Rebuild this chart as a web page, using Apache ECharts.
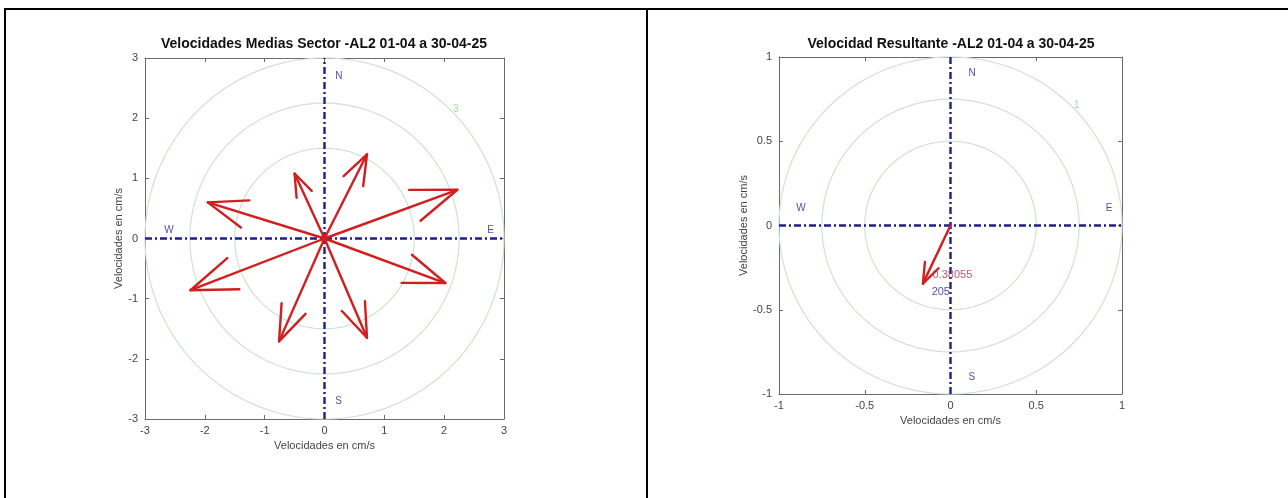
<!DOCTYPE html>
<html>
<head>
<meta charset="utf-8">
<script src="https://cdn.jsdelivr.net/npm/echarts@6/dist/echarts.min.js"></script>
<style>
html,body{margin:0;padding:0;background:#fff;}
#chart{position:absolute;left:0;top:0;width:1288px;height:498px;}
.bd{position:absolute;background:#000;}
</style>
</head>
<body>
<div id="chart"></div>
<div class="bd" style="left:4px;top:8px;width:1284px;height:2px;"></div>
<div class="bd" style="left:4px;top:8px;width:2px;height:490px;"></div>
<div class="bd" style="left:646px;top:8px;width:2px;height:490px;"></div>
<script>
// ---------- data ----------
const titleLeft = 'Velocidades Medias Sector -AL2 01-04 a 30-04-25';
const titleRight = 'Velocidad Resultante -AL2 01-04 a 30-04-25';
const axisNameX = 'Velocidades en cm/s';
const axisNameY = 'Velocidades en cm/s';

// left chart: sector mean velocity vectors (east, north components, cm/s)
const sectorU = [0.71, -0.50, 2.22, -1.95, -2.24, 2.02, -0.76, 0.71];
const sectorV = [1.40, 1.08, 0.81, 0.60, -0.86, -0.74, -1.71, -1.65];
const leftLimit = 3;
const leftInterval = 1;
const leftRings = [1.5, 2.25, 3];
const leftRingLabel = '3';
const leftRingLabelPos = [2.2, 2.14];
const leftCompass = ['N', 'E', 'S', 'W'];
const leftCompassPos = [[0.18, 2.69], [2.72, 0.13], [0.18, -2.7], [-2.68, 0.13]];

// right chart: resultant velocity
const resultantU = [-0.1608];
const resultantV = [-0.3449];
const resultantMag = '0.38055';
const resultantDir = '205';
const resultantMagPos = [-0.105, -0.296];
const resultantDirPos = [-0.11, -0.395];
const rightLimit = 1;
const rightInterval = 0.5;
const rightRings = [0.5, 0.75, 1];
const rightRingLabel = '1';
const rightRingLabelPos = [0.737, 0.716];
const rightCompass = ['N', 'E', 'S', 'W'];
const rightCompassPos = [[0.105, 0.905], [0.905, 0.1], [0.105, -0.9], [-0.9, 0.1]];

// ---------- styles ----------
const FONT = 'Liberation Sans, Arial, sans-serif';
const RED = '#d21e1e';
const NAVY = '#1e1e8c';
const RING = '#d0e2d0';
const AXC = '#6a6a6a';

const chart = echarts.init(document.getElementById('chart'), null, {renderer: 'canvas'});

function ringRender(params, api) {
  const r = api.value(0);
  const pts = [];
  for (let i = 0; i <= 180; i++) {
    const a = i / 180 * Math.PI * 2;
    pts.push(api.coord([r * Math.cos(a), r * Math.sin(a)]));
  }
  return {type: 'polyline', shape: {points: pts}, style: {stroke: RING, lineWidth: 1.2, fill: null}};
}

function arrowRender(params, api) {
  const o = api.coord([0, 0]);
  const t = api.coord([api.value(0), api.value(1)]);
  const dx = t[0] - o[0], dy = t[1] - o[1];
  const L = Math.hypot(dx, dy);
  const ang = Math.atan2(dy, dx);
  const hl = L * 0.34, ha = 20 * Math.PI / 180;
  const b1 = [t[0] - hl * Math.cos(ang - ha), t[1] - hl * Math.sin(ang - ha)];
  const b2 = [t[0] - hl * Math.cos(ang + ha), t[1] - hl * Math.sin(ang + ha)];
  const st = {stroke: RED, lineWidth: 2.4, fill: null, lineCap: 'round', lineJoin: 'round'};
  return {type: 'group', children: [
    {type: 'polyline', shape: {points: [o, t]}, style: st},
    {type: 'polyline', shape: {points: [b1, t, b2]}, style: st}
  ]};
}

function axesFor(gi, lim, step, fmt) {
  const common = {
    type: 'value', gridIndex: gi, min: -lim, max: lim, interval: step,
    splitLine: {show: false},
    axisLine: {show: true, onZero: false, lineStyle: {color: AXC, width: 1}},
    axisTick: {show: true, inside: true, length: 4, lineStyle: {color: AXC}},
  };
  const lab = {show: true, color: '#444', fontSize: 11, fontFamily: FONT, formatter: fmt};
  return {
    x: [
      Object.assign({}, common, {position: 'bottom', axisLabel: Object.assign({}, lab, {margin: 6}),
        name: axisNameX, nameLocation: 'middle', nameGap: 20,
        nameTextStyle: {color: '#444', fontSize: 11, fontFamily: FONT}}),
      Object.assign({}, common, {position: 'top', axisLabel: {show: false}})
    ],
    y: [
      Object.assign({}, common, {position: 'left', axisLabel: Object.assign({}, lab, {margin: 7}),
        name: axisNameY, nameLocation: 'middle', nameGap: gi === 0 ? 20 : 24, nameRotate: 90,
        nameTextStyle: {color: '#444', fontSize: 11, fontFamily: FONT}}),
      Object.assign({}, common, {position: 'right', axisLabel: {show: false}})
    ]
  };
}

const fmtL = v => String(v);
const fmtR = v => String(v);
const aL = axesFor(0, leftLimit, leftInterval, fmtL);
const aR = axesFor(1, rightLimit, rightInterval, fmtR);

function compassLine(xi, yi, lim) {
  const ls = {color: NAVY, width: 2.4, type: [7, 3, 2, 3]};
  return [
    {type: 'line', xAxisIndex: xi, yAxisIndex: yi, data: [[-lim, 0], [lim, 0]], symbol: 'none',
      lineStyle: ls, silent: true, z: 3},
    {type: 'line', xAxisIndex: xi, yAxisIndex: yi, data: [[0, -lim], [0, lim]], symbol: 'none',
      lineStyle: ls, silent: true, z: 3}
  ];
}

function textScatter(xi, yi, pos, texts, color, size, align) {
  return {
    type: 'scatter', xAxisIndex: xi, yAxisIndex: yi, symbolSize: 0, silent: true, z: 6,
    data: pos.map((p, i) => ({value: p, label: {formatter: texts[i]}})),
    label: {show: true, position: 'inside', color: color, fontSize: size, fontFamily: FONT,
      align: align || 'left', verticalAlign: 'middle'}
  };
}

const series = [];
// left chart
series.push({type: 'custom', xAxisIndex: 0, yAxisIndex: 0, renderItem: ringRender,
  data: leftRings.map(r => [r]), encode: {x: 0, y: 0}, silent: true, z: 1});
series.push(...compassLine(0, 0, leftLimit));
series.push({type: 'custom', xAxisIndex: 0, yAxisIndex: 0, renderItem: arrowRender,
  data: sectorU.map((u, i) => [u, sectorV[i]]), encode: {x: 0, y: 1}, z: 4, silent: true});
series.push({type: 'scatter', xAxisIndex: 0, yAxisIndex: 0, data: [[0, 0]], symbol: 'circle',
  symbolSize: 8, itemStyle: {color: RED}, z: 5, silent: true});
series.push(textScatter(0, 0, leftCompassPos, leftCompass, NAVY, 10));
series.push(textScatter(0, 0, [leftRingLabelPos], [leftRingLabel], '#8fd08f', 10, 'center'));

// right chart
series.push({type: 'custom', xAxisIndex: 2, yAxisIndex: 2, renderItem: ringRender,
  data: rightRings.map(r => [r]), encode: {x: 0, y: 0}, silent: true, z: 1});
series.push(...compassLine(2, 2, rightLimit));
series.push({type: 'custom', xAxisIndex: 2, yAxisIndex: 2, renderItem: arrowRender,
  data: resultantU.map((u, i) => [u, resultantV[i]]), encode: {x: 0, y: 1}, z: 4, silent: true});
series.push(textScatter(2, 2, rightCompassPos, rightCompass, NAVY, 10));
series.push(textScatter(2, 2, [rightRingLabelPos], [rightRingLabel], '#8fd08f', 10, 'center'));
series.push(textScatter(2, 2, [resultantMagPos], [resultantMag], '#a0304e', 11));
series.push(textScatter(2, 2, [resultantDirPos], [resultantDir], NAVY, 11));

chart.setOption({
  animation: false,
  backgroundColor: '#fff',
  grid: [
    {left: 145, top: 58, width: 359, height: 361, containLabel: false},
    {left: 779, top: 57, width: 343, height: 337, containLabel: false}
  ],
  xAxis: [aL.x[0], aL.x[1], aR.x[0], aR.x[1]],
  yAxis: [aL.y[0], aL.y[1], aR.y[0], aR.y[1]],
  graphic: [
    {type: 'text', x: 324, y: 44, style: {text: titleLeft, fill: '#111', font: 'bold 14px ' + FONT,
      textAlign: 'center', textVerticalAlign: 'middle'}},
    {type: 'text', x: 951, y: 44, style: {text: titleRight, fill: '#111', font: 'bold 14px ' + FONT,
      textAlign: 'center', textVerticalAlign: 'middle'}}
  ],
  series: series
});
</script>
</body>
</html>
